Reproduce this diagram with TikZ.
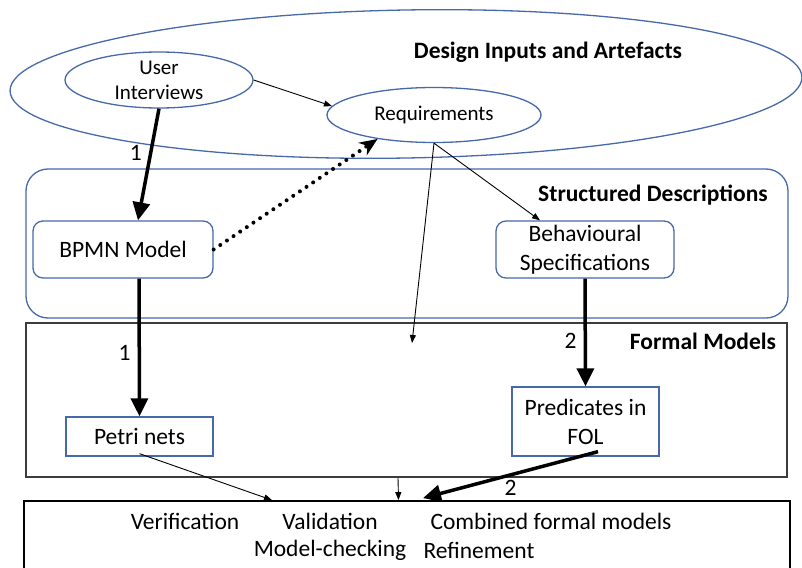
\documentclass[tikz,border=0pt]{standalone}
\usepackage{fontspec}
\setmainfont{Carlito}
\usetikzlibrary{arrows.meta,shapes.geometric,calc}
\definecolor{bblue}{RGB}{70,105,170}
\definecolor{fgray}{RGB}{60,60,60}
\tikzset{
  big/.style={font=\fontsize{23.5}{29}\selectfont},
  small/.style={font=\fontsize{21}{25}\selectfont},
  bold/.style={font=\fontsize{23.5}{29}\selectfont\bfseries},
  ell/.style={draw=bblue, line width=1.3pt, ellipse, inner sep=0pt, small, align=center},
  rbox/.style={draw=bblue, line width=1.3pt, rectangle, rounded corners=10pt, inner sep=0pt, big, align=center},
  sbox/.style={draw=bblue, line width=1.3pt, rectangle, inner sep=0pt, big, align=center},
  thin/.style={draw=black, line width=0.9pt, -{Triangle[length=8pt,width=6pt]}},
  thick/.style={draw=black, line width=3.5pt, -{Triangle[length=18pt,width=17pt]}},
  dotarrow/.style={draw=black, line width=4pt, line cap=round, dash pattern=on 0pt off 8pt, -{Stealth[length=18pt,width=15pt]}},
  lbl/.style={big, inner sep=1pt}
}
\begin{document}
\begin{tikzpicture}[x=1pt,y=-1pt]
\useasboundingbox (0,0) rectangle (802,567);
\clip (0,0) rectangle (802,567);
% containers
\node[draw=bblue, line width=1.3pt, ellipse, inner sep=0pt, minimum width=792pt, minimum height=148pt, rotate=1] (outer) at (406,84) {};
\node[bold] (tdesign) at (548,52) {Design Inputs and Artefacts};
\node[draw=bblue, line width=1.3pt, rectangle, rounded corners=22pt, inner sep=0pt, minimum width=762pt, minimum height=149pt] (sd) at (407,243.5) {};
\node[bold] (tsd) at (653,195) {Structured Descriptions};
\node[draw=fgray, line width=1.8pt, rectangle, inner sep=0pt, minimum width=761pt, minimum height=154pt] (formal) at (406.5,400) {};
\node[bold] (tfm) at (703,341) {Formal Models};
\node[draw=black, line width=1.8pt, rectangle, inner sep=0pt, minimum width=766pt, minimum height=98pt] (res) at (407,550) {};
% nodes
\node[ell, minimum width=188pt, minimum height=56pt] (ui) at (159,80) {User\\Interviews};
\node[ell, minimum width=214pt, minimum height=55pt] (req) at (434,115) {Requirements};
\node[rbox, minimum width=180pt, minimum height=57pt] (bpmn) at (123,249.5) {BPMN Model};
\node[rbox, minimum width=178pt, minimum height=57pt] (beh) at (585,249.5) {Behavioural\\Specifications};
\node[sbox, minimum width=147pt, minimum height=39pt] (petri) at (139.5,436.5) {Petri nets};
\node[sbox, minimum width=147pt, minimum height=69pt] (pred) at (585.5,421.5) {Predicates in\\FOL};
% result texts
\node[big] (t1) at (185,521) {Verification};
\node[big] (t2) at (330,521) {Validation};
\node[big] (t3) at (551,521) {Combined formal models};
\node[big] (t4) at (330,550) {Model-checking};
\node[big] (t5) at (479,550) {Refinement};
% connectors
\coordinate (fmtip) at (412,343);
\draw[thin] (ui.east) -- (req.175);
\draw[thick] (ui.south) -- node[lbl, pos=0.4, left=6pt] {1} ([xshift=15pt]bpmn.north);
\draw[dotarrow] (bpmn.east) -- (req.203);
\draw[thin] (req.south) -- ([xshift=-45pt]beh.north);
\draw[thin] (req.south) -- (fmtip);
\draw[thick] (beh.south) -- node[lbl, pos=0.58, left=6pt] {2} (pred.north);
\draw[thick] ([xshift=16pt]bpmn.south) -- node[lbl, pos=0.54, left=6pt] {1} (petri.north);
\draw[thin] ([yshift=3pt]petri.south) -- ([xshift=-135pt]res.north);
\draw[thin] ([xshift=-8.5pt]formal.south) -- ([xshift=-8.5pt]res.north);
\draw[thick] ([xshift=12.5pt,yshift=5pt]pred.south) -- node[lbl, pos=0.5, below=3pt] {2} ([xshift=16pt,yshift=2pt]res.north);
\end{tikzpicture}
\end{document}
